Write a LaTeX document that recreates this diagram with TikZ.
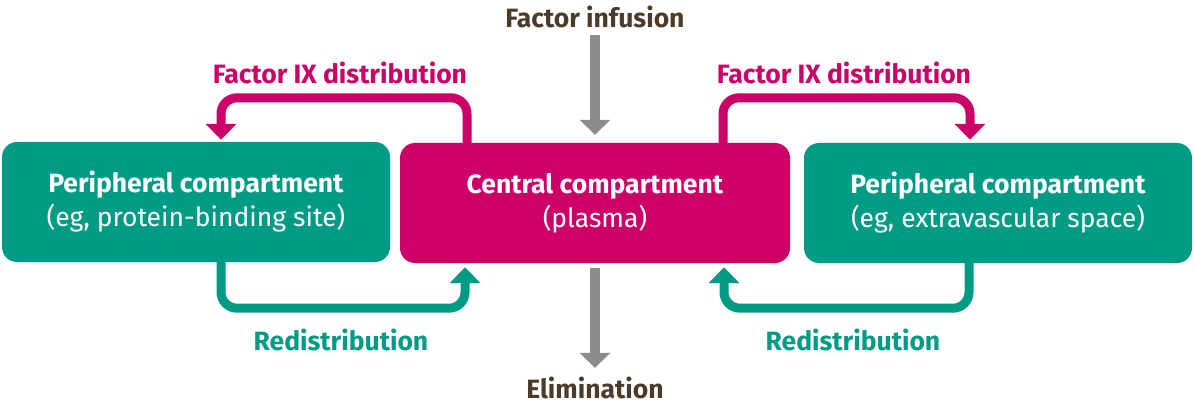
\documentclass[tikz,border=0pt]{standalone}
\usepackage{fontspec}
\setmainfont{Fira Sans}
\usetikzlibrary{arrows.meta}

\definecolor{teal}{RGB}{0,155,132}
\definecolor{magenta}{RGB}{204,0,102}
\definecolor{brown}{RGB}{77,59,42}
\definecolor{arrowgray}{RGB}{140,140,140}

\tikzset{
	box/.style={rounded corners=15pt,minimum width=388pt,minimum height=120pt,align=center,text=white,font=\fontsize{26.5}{34}\selectfont},
	flow/.style={line width=9pt,rounded corners=16pt,-{Triangle[width=30pt,length=16pt]}},
	label/.style={font=\fontsize{26.5}{30}\selectfont\bfseries,inner sep=0pt}
}

\begin{document}
	\begin{tikzpicture}[x=1pt,y=-1pt]
		\useasboundingbox (0,0) rectangle (1194,409);
		
		\begin{scope}[every node/.style={box,fill=teal}]
			\node (lp) at (196,202) {\textbf{Peripheral compartment}\\(eg, protein-binding site)};
			\node (rp) at (998,203) {\textbf{Peripheral compartment}\\(eg, extravascular space)};
		\end{scope}
		
		\node[box,fill=magenta,minimum width=390pt] (cen) at (595,203) {\textbf{Central compartment}\\(plasma)};
		
		\begin{scope}[every node/.style={label}]
			\node[text=brown] (inf) at (595,17) {Factor infusion};
			\node[text=brown] (elim) at (595,388) {Elimination};
			\node[text=magenta] (ldist) at (340,73) {Factor IX distribution};
			\node[text=magenta] (rdist) at (844,73) {Factor IX distribution};
			\node[text=teal] (lred) at (341,340) {Redistribution};
			\node[text=teal] (rred) at (853,340) {Redistribution};
		\end{scope}
		
		\begin{scope}
			\draw[flow,magenta] ([xshift=-128pt]cen.north) |- ([xshift=25pt,yshift=44pt]lp.north) -- ([xshift=25pt,yshift=2pt]lp.north);
			\draw[flow,magenta] ([xshift=128pt]cen.north) |- ([xshift=-28pt,yshift=45pt]rp.north) -- ([xshift=-28pt,yshift=3pt]rp.north);
			\draw[flow,teal] ([xshift=25pt]lp.south) |- ([xshift=-130pt,yshift=-45pt]cen.south) -- ([xshift=-130pt,yshift=-4pt]cen.south);
			\draw[flow,teal] ([xshift=-29pt]rp.south) |- ([xshift=129pt,yshift=-45pt]cen.south) -- ([xshift=129pt,yshift=-4pt]cen.south);
			\draw[arrowgray,line width=10pt,-{Triangle[width=30pt,length=15pt]}] ([yshift=-7pt]inf.south) -- ([yshift=8pt]cen.north);
			\draw[arrowgray,line width=10pt,-{Triangle[width=30pt,length=15pt]}] ([yshift=-5pt]cen.south) -- ([yshift=9pt]elim.north);
		\end{scope}
	\end{tikzpicture}
\end{document}
